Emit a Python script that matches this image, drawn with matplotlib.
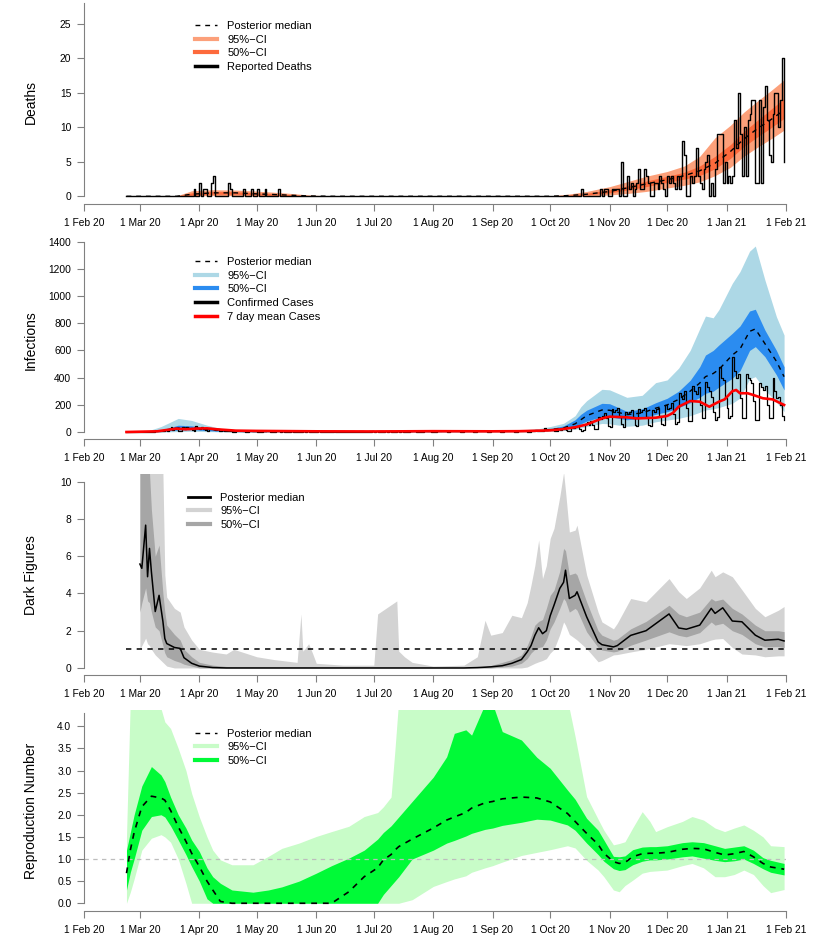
import matplotlib
matplotlib.use("Agg")
import matplotlib.pyplot as plt
from matplotlib.lines import Line2D
import pandas as pd

plt.rcParams["font.family"] = ["Liberation Sans", "DejaVu Sans"]

# ---------------- data ----------------
first_day = "2020-02-23"

# reported deaths per day, one row per week starting 23 Feb 2020
deaths = [
    0, 0, 0, 0, 0, 0, 0,
    0, 0, 0, 0, 0, 0, 0,
    0, 0, 0, 0, 0, 0, 0,
    0, 0, 0, 0, 0, 0, 0,
    0, 0, 0, 0, 0, 0, 0,
    1, 0, 0, 2, 0, 1, 1,
    0, 0, 2, 3, 0, 0, 0,
    0, 0, 0, 0, 2, 1, 0,
    0, 0, 0, 0, 0, 1, 0,
    0, 0, 1, 0, 0, 1, 0,
    0, 0, 1, 0, 0, 0, 0,
    0, 0, 1, 0, 0, 0, 0,
    0, 0, 0, 0, 0, 0, 0,
    0, 0, 0, 0, 0, 0, 0,
    0, 0, 0, 0, 0, 0, 0,
    0, 0, 0, 0, 0, 0, 0,
    0, 0, 0, 0, 0, 0, 0,
    0, 0, 0, 0, 0, 0, 0,
    0, 0, 0, 0, 0, 0, 0,
    0, 0, 0, 0, 0, 0, 0,
    0, 0, 0, 0, 0, 0, 0,
    0, 0, 0, 0, 0, 0, 0,
    0, 0, 0, 0, 0, 0, 0,
    0, 0, 0, 0, 0, 0, 0,
    0, 0, 0, 0, 0, 0, 0,
    0, 0, 0, 0, 0, 0, 0,
    0, 0, 0, 0, 0, 0, 0,
    0, 0, 0, 0, 0, 0, 0,
    0, 0, 0, 0, 0, 0, 0,
    0, 0, 0, 0, 0, 0, 0,
    0, 0, 0, 0, 0, 0, 0,
    0, 0, 0, 0, 0, 0, 0,
    0, 0, 0, 0, 0, 0, 0,
    0, 0, 0, 0, 0, 0, 1,
    0, 0, 0, 0, 0, 0, 0,
    0, 0, 1, 0, 1, 1, 0,
    0, 1, 1, 1, 1, 0, 5,
    0, 0, 3, 1, 2, 0, 1,
    2, 4, 1, 1, 4, 3, 2,
    0, 0, 2, 2, 1, 3, 2,
    1, 0, 3, 2, 3, 2, 1,
    3, 1, 3, 8, 6, 0, 0,
    3, 2, 3, 7, 3, 2, 1,
    4, 5, 6, 0, 2, 0, 4,
    9, 9, 9, 2, 5, 2, 3,
    2, 3, 11, 7, 15, 9, 3,
    10, 3, 11, 12, 14, 14, 2,
    2, 14, 2, 13, 16, 11, 6,
    5, 12, 15, 15, 10, 14, 20,
    5,
]

# confirmed cases per day, same weeks
cases = [
    0, 0, 0, 0, 0, 0, 0,
    0, 0, 1, 0, 2, 1, 3,
    2, 5, 4, 8, 6, 10, 12,
    8, 20, 35, 15, 30, 25, 10,
    5, 40, 20, 35, 25, 30, 15,
    10, 45, 30, 20, 35, 25, 15,
    10, 30, 20, 25, 15, 20, 10,
    5, 12, 10, 8, 10, 6, 3,
    2, 8, 6, 5, 7, 4, 2,
    1, 6, 5, 4, 6, 3, 1,
    1, 5, 4, 8, 5, 3, 2,
    1, 4, 5, 3, 4, 2, 1,
    1, 3, 4, 3, 3, 2, 1,
    0, 4, 3, 6, 3, 2, 1,
    0, 3, 4, 3, 2, 2, 1,
    0, 2, 3, 4, 3, 2, 1,
    0, 3, 2, 3, 2, 1, 1,
    0, 2, 3, 2, 3, 2, 1,
    0, 3, 4, 3, 5, 2, 1,
    1, 3, 4, 3, 4, 2, 1,
    0, 4, 3, 5, 3, 2, 1,
    1, 4, 5, 4, 3, 3, 1,
    1, 5, 4, 6, 5, 3, 2,
    1, 6, 5, 8, 6, 4, 2,
    2, 8, 6, 7, 9, 5, 3,
    2, 7, 6, 8, 6, 5, 2,
    1, 6, 7, 5, 6, 4, 2,
    2, 6, 5, 7, 5, 4, 2,
    2, 7, 6, 8, 7, 5, 3,
    2, 8, 7, 9, 8, 6, 3,
    3, 10, 9, 12, 11, 8, 4,
    5, 30, 15, 20, 25, 12, 8,
    5, 25, 18, 30, 22, 15, 8,
    8, 35, 30, 40, 45, 25, 10,
    12, 60, 75, 55, 80, 50, 20,
    20, 110, 95, 120, 140, 100, 45,
    40, 170, 150, 165, 180, 120, 60,
    40, 150, 130, 145, 160, 110, 50,
    45, 170, 150, 160, 175, 110, 55,
    45, 160, 150, 170, 180, 120, 60,
    55, 200, 170, 180, 210, 130, 60,
    70, 290, 260, 240, 300, 180, 80,
    80, 340, 300, 280, 330, 200, 100,
    100, 370, 330, 300, 260, 150, 90,
    110, 480, 400, 380, 250, 180, 100,
    120, 554, 450, 400, 430, 250, 100,
    100, 430, 400, 380, 360, 230, 90,
    90, 360, 330, 310, 340, 200, 100,
    100, 395, 300, 250, 260, 200, 120,
    88,
]

# 7 day mean of cases (red line)
mean_dates = ["2020-02-23", "2020-03-10", "2020-03-20", "2020-03-25", "2020-03-30",
              "2020-04-05", "2020-04-10", "2020-04-20", "2020-05-01", "2020-06-01",
              "2020-07-01", "2020-08-01", "2020-09-01", "2020-09-15", "2020-10-01",
              "2020-10-08", "2020-10-14", "2020-10-20", "2020-10-28", "2020-11-01",
              "2020-11-10", "2020-11-15", "2020-11-25", "2020-12-01", "2020-12-04",
              "2020-12-07", "2020-12-13", "2020-12-18", "2020-12-23", "2020-12-28",
              "2020-12-31", "2021-01-04", "2021-01-06", "2021-01-08", "2021-01-12",
              "2021-01-15", "2021-01-20", "2021-01-25", "2021-01-31"]
mean_cases = [0, 5, 25, 20, 25, 27, 20, 10, 8, 5, 4, 6, 5, 6, 12, 22, 35, 55, 100, 113,
              108, 100, 105, 118, 140, 186, 228, 223, 186, 223, 240, 300, 309, 285, 285,
              272, 248, 240, 199]

# posterior of deaths
death_dates = ["2020-02-23", "2020-03-20", "2020-03-28", "2020-04-08", "2020-04-20",
               "2020-05-01", "2020-05-15", "2020-05-28", "2020-06-10", "2020-09-30",
               "2020-10-10", "2020-10-20", "2020-11-01", "2020-11-10", "2020-11-20",
               "2020-12-01", "2020-12-10", "2020-12-18", "2020-12-26", "2021-01-03",
               "2021-01-10", "2021-01-17", "2021-01-24", "2021-01-31"]
death_med = [0, 0, 0.3, 0.5, 0.5, 0.35, 0.2, 0.05, 0, 0, 0.1, 0.3, 0.7, 1.2, 1.8, 2.4,
             3.0, 3.7, 4.8, 6.5, 8.3, 9.8, 11.1, 12.5]
death_lo50 = [0, 0, 0.15, 0.3, 0.3, 0.2, 0.1, 0, 0, 0, 0.05, 0.2, 0.5, 0.9, 1.4, 2.0,
              2.5, 3.0, 4.0, 5.5, 7.2, 8.6, 9.9, 11.3]
death_hi50 = [0, 0, 0.5, 0.7, 0.65, 0.5, 0.3, 0.1, 0, 0.02, 0.15, 0.45, 0.95, 1.5, 2.2,
              2.9, 3.5, 4.4, 5.8, 7.5, 9.4, 11.0, 12.6, 14.2]
death_lo95 = [0, 0, 0.05, 0.1, 0.1, 0.05, 0, 0, 0, 0, 0, 0.05, 0.2, 0.4, 0.7, 1.2, 1.6,
              2.1, 3.0, 4.2, 5.8, 7.1, 8.3, 9.6]
death_hi95 = [0, 0.05, 0.8, 0.95, 0.9, 0.75, 0.5, 0.2, 0.02, 0.05, 0.3, 0.7, 1.4, 2.1,
              2.9, 3.6, 4.4, 5.8, 8.5, 10.3, 12.2, 13.8, 15.3, 16.9]

# posterior of infections
inf_dates = ["2020-02-23", "2020-03-05", "2020-03-12", "2020-03-21", "2020-03-28",
             "2020-04-05", "2020-04-14", "2020-04-25", "2020-05-15", "2020-06-15",
             "2020-07-15", "2020-08-15", "2020-09-15", "2020-09-25", "2020-10-01",
             "2020-10-08", "2020-10-14", "2020-10-17", "2020-10-20", "2020-10-28",
             "2020-11-01", "2020-11-10", "2020-11-18", "2020-11-25", "2020-12-01",
             "2020-12-07", "2020-12-13", "2020-12-18", "2020-12-21", "2020-12-25",
             "2020-12-28", "2021-01-04", "2021-01-08", "2021-01-13", "2021-01-16",
             "2021-01-21", "2021-01-27", "2021-01-31"]
inf_med = [0, 1, 8, 30, 30, 20, 8, 4, 3, 3, 4, 5, 6, 10, 18, 30, 60, 90, 120, 162, 160,
           128, 140, 175, 199, 240, 300, 360, 407, 430, 460, 566, 610, 740, 758, 650,
           520, 407]
inf_lo50 = [0, 0, 3, 15, 18, 10, 4, 2, 2, 2, 2, 3, 4, 6, 12, 20, 40, 60, 80, 113, 112,
            90, 100, 130, 149, 180, 215, 255, 285, 300, 330, 395, 450, 600, 628, 554,
            420, 309]
inf_hi50 = [0, 3, 15, 50, 45, 30, 12, 6, 5, 5, 6, 7, 9, 14, 25, 45, 90, 130, 160, 211,
            208, 152, 170, 215, 248, 300, 380, 480, 566, 600, 640, 726, 780, 890, 903,
            750, 600, 480]
inf_lo95 = [0, 0, 0, 3, 5, 3, 1, 0, 0, 0, 0, 1, 2, 3, 5, 10, 20, 30, 40, 63, 60, 42, 50,
            75, 88, 100, 120, 145, 162, 170, 180, 211, 250, 390, 407, 309, 220, 150]
inf_hi95 = [0, 8, 40, 100, 85, 50, 20, 10, 8, 8, 9, 10, 14, 25, 40, 64, 120, 186, 230,
            314, 310, 255, 270, 363, 383, 470, 600, 760, 853, 840, 900, 1094, 1180, 1330,
            1368, 1118, 848, 713]

# dark figures
dark_dates = ["2020-03-01", "2020-03-02", "2020-03-04", "2020-03-05", "2020-03-06",
              "2020-03-07", "2020-03-09", "2020-03-11", "2020-03-13", "2020-03-14",
              "2020-03-15", "2020-03-19", "2020-03-22", "2020-03-24", "2020-03-28",
              "2020-04-01", "2020-04-08", "2020-04-15", "2020-04-19", "2020-05-01",
              "2020-05-10", "2020-05-22", "2020-05-24", "2020-05-25", "2020-05-28",
              "2020-05-30", "2020-06-01", "2020-06-15", "2020-07-01", "2020-07-03",
              "2020-07-13", "2020-07-14", "2020-07-17", "2020-07-21", "2020-08-01",
              "2020-08-17", "2020-08-24", "2020-08-28", "2020-08-31", "2020-09-06",
              "2020-09-11", "2020-09-16", "2020-09-19", "2020-09-21", "2020-09-23",
              "2020-09-25", "2020-09-27", "2020-09-29", "2020-10-01", "2020-10-03",
              "2020-10-06", "2020-10-08", "2020-10-09", "2020-10-11", "2020-10-14",
              "2020-10-15", "2020-10-20", "2020-10-26", "2020-10-28", "2020-11-03",
              "2020-11-05", "2020-11-12", "2020-11-20", "2020-12-02", "2020-12-07",
              "2020-12-11", "2020-12-18", "2020-12-24", "2020-12-26", "2020-12-30",
              "2021-01-04", "2021-01-09", "2021-01-16", "2021-01-21", "2021-01-28",
              "2021-01-31"]
dark_med = [5.58, 5.35, 7.67, 4.9, 6.42, 5.16, 3.03, 3.9, 2.5, 1.58,
            1.31, 1.1, 1.05, 0.55, 0.25, 0.1, 0.02, 0, 0, 0,
            0, 0, 0, 0, 0, 0, 0, 0, 0, 0,
            0, 0, 0, 0, 0, 0, 0.02, 0.04, 0.06, 0.12,
            0.25, 0.45, 0.86, 1.2, 1.75, 2.16, 1.84, 2.0, 2.8, 3.37,
            4.27, 4.6, 5.25, 3.73, 3.9, 4.09, 2.75, 1.4, 1.25, 1.13,
            1.2, 1.75, 2.0, 2.9, 2.15, 2.08, 2.3, 3.2, 2.93, 3.23,
            2.52, 2.48, 1.76, 1.49, 1.54, 1.45]
dark_lo50 = [3.0, 3.5, 4.3, 3.6, 3.5, 3.0, 2.2, 2.0, 1.2, 0.8,
             0.6, 0.4, 0.3, 0.2, 0.1, 0, 0, 0, 0, 0,
             0, 0, 0, 0, 0, 0, 0, 0, 0, 0,
             0, 0, 0, 0, 0, 0, 0, 0, 0, 0.05,
             0.1, 0.25, 0.5, 0.8, 1.0, 1.1, 1.15, 1.5, 2.1, 2.47,
             3.2, 3.73, 3.6, 3.0, 3.2, 3.1, 1.94, 1.1, 0.96, 0.86,
             0.9, 1.22, 1.5, 1.94, 1.75, 1.67, 1.9, 2.47, 2.3, 2.4,
             2.0, 1.8, 1.3, 1.13, 1.15, 1.1]
dark_hi50 = [10.5, 10.5, 10.5, 10.5, 10.5, 8.5, 6.0, 6.6, 4.0, 3.0,
             2.3, 1.8, 1.5, 1.0, 0.6, 0.3, 0.15, 0.08, 0.06, 0.05,
             0.04, 0.03, 0.03, 0.03, 0.03, 0.03, 0.03, 0.03, 0.03, 0.03,
             0.03, 0.03, 0.03, 0.03, 0.03, 0.03, 0.06, 0.1, 0.13, 0.3,
             0.45, 0.7, 1.2, 1.7, 2.3, 2.5, 2.6, 3.2, 3.9, 4.18,
             5.2, 6.42, 6.3, 5.0, 5.1, 5.0, 3.55, 2.0, 1.76, 1.49,
             1.55, 2.1, 2.5, 3.37, 2.9, 2.75, 3.0, 3.73, 3.6, 3.7,
             3.2, 2.9, 2.3, 2.0, 2.0, 1.95]
dark_lo95 = [1.0, 1.2, 1.6, 1.3, 1.2, 1.0, 0.7, 0.5, 0.3, 0.2,
             0.1, 0, 0, 0, 0, 0, 0, 0, 0, 0,
             0, 0, 0, 0, 0, 0, 0, 0, 0, 0,
             0, 0, 0, 0, 0, 0, 0, 0, 0, 0,
             0, 0, 0.05, 0.15, 0.25, 0.33, 0.4, 0.5, 0.8, 1.0,
             1.8, 2.47, 2.3, 1.8, 1.58, 1.5, 1.04, 0.33, 0.4, 0.7,
             0.72, 0.86, 1.0, 1.3, 1.25, 1.2, 1.3, 1.5, 1.55, 1.58,
             1.1, 0.75, 0.7, 0.6, 0.65, 0.65]
dark_hi95 = [10.5, 10.5, 10.5, 10.5, 10.5, 10.5, 10.5, 10.5, 10.5, 5.0,
             3.8, 3.2, 3.0, 2.2, 1.5, 1.0, 0.85, 0.75, 1.0, 0.6,
             0.45, 0.3, 2.9, 0.9, 1.3, 0.8, 0.25, 0.15, 0.15, 2.9,
             3.6, 0.9, 0.6, 0.3, 0.1, 0.15, 0.6, 2.56, 1.76, 1.9,
             2.83, 2.7, 3.5, 4.45, 5.5, 6.87, 4.8, 5.5, 6.96, 7.5,
             9.2, 10.5, 9.5, 7.3, 7.4, 7.67, 5.0, 3.0, 2.47, 2.1,
             2.4, 3.73, 3.55, 4.8, 4.1, 3.73, 4.3, 5.25, 4.9, 5.16,
             4.9, 4.2, 3.2, 2.75, 3.1, 3.3]

# reproduction number
r_dates = ["2020-02-23", "2020-02-25", "2020-02-27", "2020-03-02", "2020-03-07",
           "2020-03-12", "2020-03-14", "2020-03-17", "2020-03-21", "2020-03-25",
           "2020-03-28", "2020-04-01", "2020-04-05", "2020-04-08", "2020-04-12",
           "2020-04-18", "2020-04-29", "2020-05-07", "2020-05-14", "2020-05-23",
           "2020-06-01", "2020-06-09", "2020-06-18", "2020-06-26", "2020-07-03",
           "2020-07-06", "2020-07-10", "2020-07-12", "2020-07-14", "2020-07-21",
           "2020-08-01", "2020-08-08", "2020-08-12", "2020-08-18", "2020-08-21",
           "2020-08-28", "2020-09-01", "2020-09-06", "2020-09-16", "2020-09-24",
           "2020-10-01", "2020-10-10", "2020-10-14", "2020-10-20", "2020-10-26",
           "2020-10-29", "2020-11-03", "2020-11-06", "2020-11-09", "2020-11-13",
           "2020-11-18", "2020-11-22", "2020-11-25", "2020-12-01", "2020-12-09",
           "2020-12-14", "2020-12-20", "2020-12-26", "2020-12-31", "2021-01-05",
           "2021-01-10", "2021-01-15", "2021-01-20", "2021-01-24", "2021-01-31"]
r_med = [0.68, 1.2, 1.6, 2.18, 2.42, 2.38, 2.33, 2.1, 1.73, 1.4,
         1.13, 0.83, 0.5, 0.3, 0.04, 0, 0, 0, 0, 0,
         0, 0, 0.26, 0.6, 0.8, 0.98, 1.1, 1.2, 1.28, 1.45,
         1.7, 1.88, 1.95, 2.05, 2.15, 2.27, 2.3, 2.36, 2.4, 2.38,
         2.29, 2.03, 1.85, 1.58, 1.33, 1.13, 0.94, 0.9, 0.92, 1.05,
         1.12, 1.13, 1.13, 1.15, 1.22, 1.24, 1.23, 1.15, 1.09, 1.12,
         1.17, 1.05, 0.9, 0.82, 0.77]
r_lo50 = [0.3, 0.7, 1.0, 1.65, 1.96, 2.0, 1.95, 1.75, 1.43, 1.1,
          0.83, 0.5, 0.1, 0, 0, 0, 0, 0, 0, 0,
          0, 0, 0, 0, 0, 0.2, 0.4, 0.5, 0.6, 1.0,
          1.2, 1.36, 1.42, 1.52, 1.58, 1.67, 1.7, 1.76, 1.83, 1.9,
          1.88, 1.77, 1.65, 1.36, 1.1, 0.95, 0.78, 0.74, 0.76, 0.87,
          0.95, 0.98, 0.98, 1.0, 1.05, 1.07, 1.02, 0.97, 0.94, 0.96,
          1.0, 0.9, 0.78, 0.7, 0.64]
r_hi50 = [1.2, 1.6, 2.0, 2.65, 3.09, 2.9, 2.75, 2.4, 2.0, 1.7,
          1.43, 1.17, 0.8, 0.6, 0.45, 0.3, 0.25, 0.3, 0.37, 0.5,
          0.68, 0.85, 1.02, 1.2, 1.45, 1.6, 1.75, 1.85, 1.95, 2.3,
          2.85, 3.31, 3.84, 3.92, 3.8, 4.5, 4.5, 3.88, 3.69, 3.3,
          3.05, 2.56, 2.35, 1.92, 1.65, 1.43, 1.06, 1.05, 1.07, 1.21,
          1.27, 1.28, 1.28, 1.3, 1.37, 1.39, 1.37, 1.3, 1.24, 1.27,
          1.3, 1.2, 1.03, 0.97, 0.9]
r_lo95 = [0, 0.25, 0.55, 1.2, 1.47, 1.55, 1.5, 1.38, 1.0, 0.45,
          0, 0, 0, 0, 0, 0, 0, 0, 0, 0,
          0, 0, 0, 0, 0, 0, 0, 0, 0, 0.08,
          0.38, 0.49, 0.55, 0.62, 0.7, 0.8, 0.85, 0.93, 1.08, 1.15,
          1.21, 1.3, 1.25, 0.97, 0.75, 0.6, 0.3, 0.26, 0.4, 0.52,
          0.68, 0.72, 0.73, 0.75, 0.85, 0.9, 0.8, 0.6, 0.6, 0.65,
          0.75, 0.65, 0.4, 0.24, 0.31]
r_hi95 = [1.5, 4.6, 4.6, 4.6, 4.6, 4.4, 4.1, 3.95, 3.5, 3.0,
          2.48, 1.95, 1.5, 1.2, 0.98, 0.87, 0.87, 1.06, 1.24, 1.36,
          1.51, 1.62, 1.74, 1.96, 2.05, 2.18, 2.4, 3.45, 4.6, 4.6,
          4.6, 4.6, 4.6, 4.6, 4.6, 4.6, 4.6, 4.6, 4.6, 4.6,
          4.6, 4.6, 3.77, 2.41, 1.9, 1.65, 1.32, 1.35, 1.39, 1.7,
          2.07, 1.85, 1.62, 1.73, 1.85, 1.96, 1.88, 1.7, 1.62, 1.7,
          1.77, 1.65, 1.5, 1.3, 1.28]

# ---------------- layout helpers ----------------
W, H = 830, 942
X_LEFT, X_RIGHT = 84.3, 786.0
AXIS_GREY = "#808080"

day_dates = pd.date_range(first_day, periods=len(deaths), freq="D")
month_starts = pd.date_range("2020-02-01", "2021-02-01", freq="MS")
month_labels = ["1 " + d.strftime("%b %y") for d in month_starts]


def panel(fig, top_px, bottom_px):
    return fig.add_axes([X_LEFT / W, 1 - bottom_px / H,
                         (X_RIGHT - X_LEFT) / W, (bottom_px - top_px) / H])


def style(ax, ylim, yticks, spine_top, ylabel, fmt="{:g}"):
    ax.set_xlim(month_starts[0], month_starts[-1])
    ax.set_ylim(*ylim)
    ax.set_xticks(month_starts)
    ax.set_xticklabels(month_labels)
    ax.set_yticks(yticks)
    ax.set_yticklabels([fmt.format(v) for v in yticks])
    for s in ["top", "right"]:
        ax.spines[s].set_visible(False)
    for s in ["left", "bottom"]:
        ax.spines[s].set_color(AXIS_GREY)
        ax.spines[s].set_linewidth(0.8)
    ax.spines["left"].set_bounds(0, spine_top)
    ax.tick_params(axis="both", length=5, width=0.8, color=AXIS_GREY,
                   labelsize=7.4, labelcolor="black")
    ax.tick_params(axis="x", pad=5.0)
    ax.tick_params(axis="y", pad=4.3)
    ax.set_ylabel(ylabel, fontsize=10, va="center")
    ax.yaxis.set_label_coords((31 - X_LEFT) / (X_RIGHT - X_LEFT), 0.5)


def legend(ax, handles, labels, x_px, top_px, ax_top, ax_bottom):
    ax.legend(handles, labels, loc="upper left",
              bbox_to_anchor=((x_px - X_LEFT) / (X_RIGHT - X_LEFT),
                              1 - (top_px - ax_top) / (ax_bottom - ax_top)),
              frameon=False, fontsize=8, handlelength=2.0, handletextpad=0.9,
              labelspacing=0.33, borderpad=0, borderaxespad=0)


dash = (0, (3.5, 3.5))
fig = plt.figure(figsize=(W / 100, H / 100), dpi=100)

# ---------------- Deaths ----------------
ax1 = panel(fig, 0, 204)
d = pd.to_datetime(death_dates)
ax1.fill_between(d, death_lo95, death_hi95, color="#fca07a", lw=0)
ax1.fill_between(d, death_lo50, death_hi50, color="#fd6a3c", lw=0)
ax1.plot(d, death_med, color="black", ls=dash, lw=1)
ax1.step(day_dates, deaths, where="post", color="black", lw=1.0)
style(ax1, (-1.117, 28.48), [0, 5, 10, 15, 20, 25], 28, "Deaths")
legend(ax1,
       [Line2D([], [], color="black", ls=dash, lw=1),
        Line2D([], [], color="#fca07a", lw=3),
        Line2D([], [], color="#fd6a3c", lw=3),
        Line2D([], [], color="black", lw=2.5)],
       ["Posterior median", "95%\u2212CI", "50%\u2212CI", "Reported Deaths"],
       195, 21, 0, 204)

# ---------------- Infections ----------------
ax2 = panel(fig, 241, 439.3)
d = pd.to_datetime(inf_dates)
ax2.fill_between(d, inf_lo95, inf_hi95, color="#add8e6", lw=0)
ax2.fill_between(d, inf_lo50, inf_hi50, color="#2b8cf0", lw=0)
ax2.plot(d, inf_med, color="black", ls=dash, lw=1)
ax2.step(day_dates, cases, where="post", color="black", lw=0.9)
ax2.plot(pd.to_datetime(mean_dates), mean_cases, color="#ff0000", lw=1.9)
style(ax2, (-53.7, 1405), [0, 200, 400, 600, 800, 1000, 1200, 1400], 1400,
      "Infections")
legend(ax2,
       [Line2D([], [], color="black", ls=dash, lw=1),
        Line2D([], [], color="#add8e6", lw=3),
        Line2D([], [], color="#2b8cf0", lw=3),
        Line2D([], [], color="black", lw=2.5),
        Line2D([], [], color="#ff0000", lw=2.5)],
       ["Posterior median", "95%\u2212CI", "50%\u2212CI", "Confirmed Cases",
        "7 day mean Cases"],
       195, 257, 241, 439.3)

# ---------------- Dark figures ----------------
ax3 = panel(fig, 474.3, 675.4)
d = pd.to_datetime(dark_dates)
ax3.fill_between(d, dark_lo95, dark_hi95, color="#d3d3d3", lw=0)
ax3.fill_between(d, dark_lo50, dark_hi50, color="#a6a6a6", lw=0)
ax3.plot(d, dark_med, color="black", lw=1.1)
ax3.hlines(1, day_dates[0], day_dates[-1], color="black", ls=dash, lw=1.1)
style(ax3, (-0.4, 10.4), [0, 2, 4, 6, 8, 10], 10, "Dark Figures")
legend(ax3,
       [Line2D([], [], color="black", lw=2),
        Line2D([], [], color="#d3d3d3", lw=3),
        Line2D([], [], color="#a6a6a6", lw=3)],
       ["Posterior median", "95%\u2212CI", "50%\u2212CI"],
       188, 492.7, 474.3, 675.4)

# ---------------- Reproduction number ----------------
ax4 = panel(fig, 709.9, 911)
d = pd.to_datetime(r_dates)
ax4.fill_between(d, r_lo95, r_hi95, color="#c8fcc8", lw=0)
ax4.fill_between(d, r_lo50, r_hi50, color="#00fa37", lw=0)
ax4.axhline(1, color="#bdbdbd", ls=dash, lw=0.9)
ax4.plot(d, r_med, color="black", ls=dash, lw=1.2)
style(ax4, (-0.175, 4.37), [0, 0.5, 1, 1.5, 2, 2.5, 3, 3.5, 4], 4.3,
      "Reproduction Number", fmt="{:.1f}")
legend(ax4,
       [Line2D([], [], color="black", ls=dash, lw=1),
        Line2D([], [], color="#c8fcc8", lw=3),
        Line2D([], [], color="#00fa37", lw=3)],
       ["Posterior median", "95%\u2212CI", "50%\u2212CI"],
       195, 728.7, 709.9, 911)

fig.savefig("out.png", dpi=100)
